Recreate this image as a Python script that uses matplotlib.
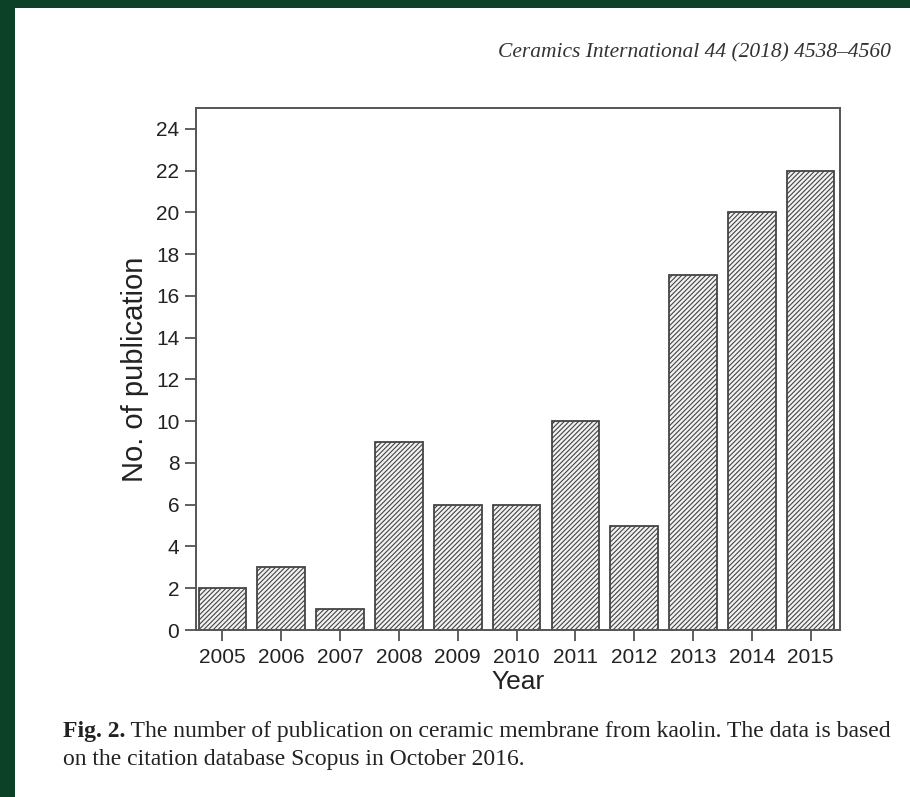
import matplotlib
matplotlib.use("Agg")
import matplotlib.pyplot as plt

# Data
years = [2005, 2006, 2007, 2008, 2009, 2010, 2011, 2012, 2013, 2014, 2015]
counts = [2, 3, 1, 9, 6, 6, 10, 5, 17, 20, 22]
yticks = list(range(0, 25, 2))

header = "Ceramics International 44 (2018) 4538\u20134560"
cap_bold = "Fig. 2."
cap_line1 = " The number of publication on ceramic membrane from kaolin. The data is based"
cap_line2 = "on the citation database Scopus in October 2016."

plt.rcParams['hatch.color'] = '#555555'
plt.rcParams['hatch.linewidth'] = 0.8

W, H = 910, 797
fig = plt.figure(figsize=(9.10, 7.97), dpi=100, facecolor='#0c4027')

# white page inside the green frame
page = fig.add_axes([15 / W, 0, 1 - 15 / W, 1 - 8 / H])
page.set_facecolor('white')
page.set_xticks([])
page.set_yticks([])
for s in page.spines.values():
    s.set_visible(False)

ax = fig.add_axes([196 / W, 1 - 630 / H, (840 - 196) / W, (630 - 108) / H])
ax.bar(years, counts, width=0.81, color='#f2f2f2', edgecolor='#444444',
       linewidth=1.3, hatch='///////')
ax.set_xlim(2004.55, 2015.5)
ax.set_ylim(0, 25)
ax.set_xticks(years)
ax.set_yticks(yticks)
ax.tick_params(direction='out', length=8, width=1.2, color='#444444',
               labelsize=15, labelcolor='#222222')
ax.tick_params(axis='x', pad=5)
ax.tick_params(axis='y', pad=4)
for lab in ax.get_xticklabels() + ax.get_yticklabels():
    lab.set_family('Liberation Sans')
for s in ax.spines.values():
    s.set_linewidth(1.4)
    s.set_color('#555555')
ax.set_xlabel('Year', fontsize=19, family='Liberation Sans', color='#222222', labelpad=2)
ax.set_ylabel('No. of publication', fontsize=21, family='Liberation Sans',
              color='#222222', labelpad=5)

fig.text(891 / W, 1 - 57 / H, header, ha='right', va='baseline', fontsize=15.5,
         family='Liberation Serif', style='italic', color='#333333')

t1 = fig.text(63 / W, 1 - 737 / H, cap_bold, ha='left', va='baseline', fontsize=17,
              family='Liberation Serif', weight='bold', color='#222222')
fig.canvas.draw()
bb = t1.get_window_extent()
fig.text(bb.x1 / W, 1 - 737 / H, cap_line1, ha='left', va='baseline', fontsize=17,
         family='Liberation Serif', color='#222222')
fig.text(63 / W, 1 - 765 / H, cap_line2, ha='left', va='baseline', fontsize=17,
         family='Liberation Serif', color='#222222')

fig.savefig('out.png', dpi=100, facecolor=fig.get_facecolor())
